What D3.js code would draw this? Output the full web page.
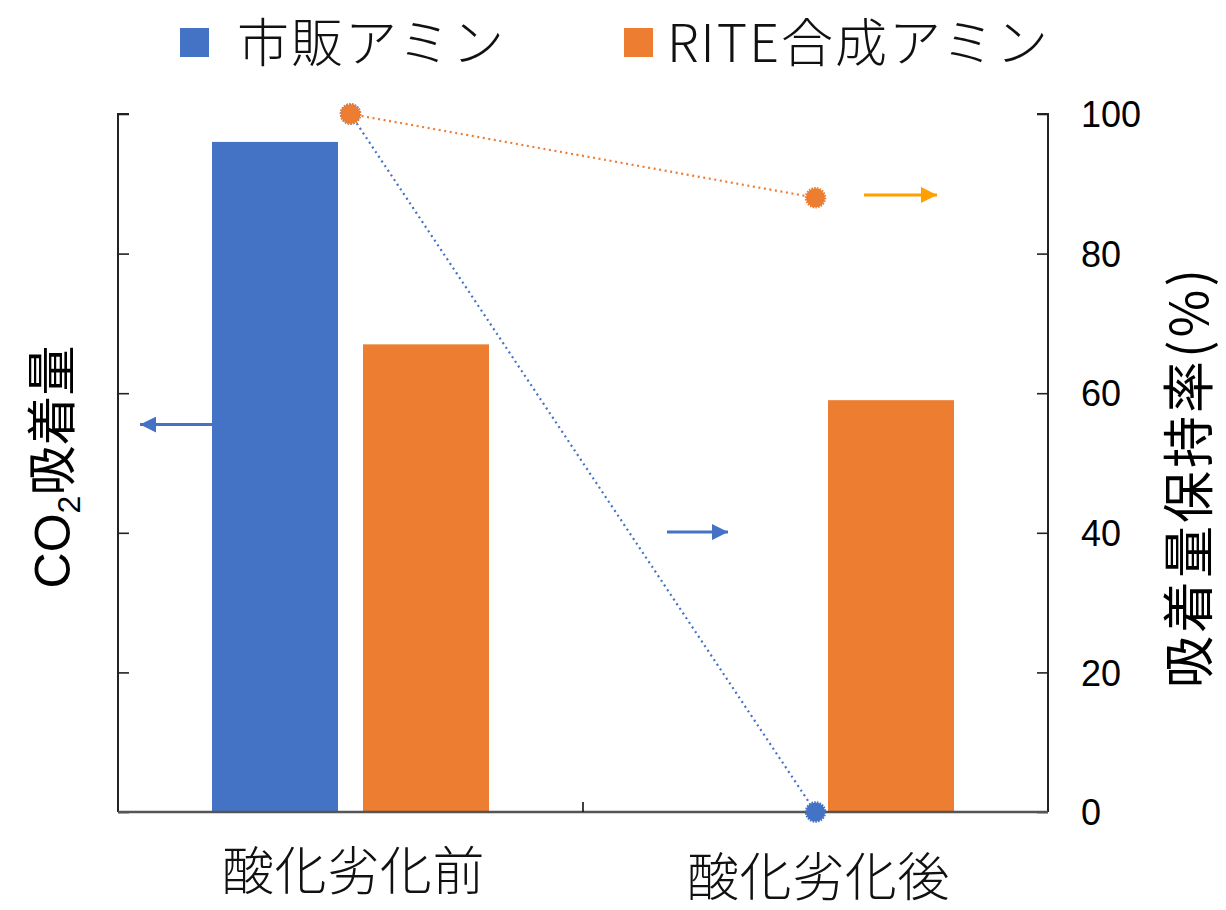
<!DOCTYPE html>
<html>
<head>
<meta charset="utf-8">
<script src="https://cdn.jsdelivr.net/npm/d3@7/dist/d3.min.js"></script>
<style>
  html, body { margin: 0; padding: 0; background: #fff; }
  svg { display: block; }
</style>
</head>
<body>
<svg id="chart" width="1226" height="910"></svg>
<script>
// Categories and series
const categories = ["酸化劣化前", "酸化劣化後"];
const seriesNames = ["市販アミン", "RITE合成アミン"];

// CO2 adsorption (left axis, relative)
const adsorptionCommercial = [0.96, 0];
const adsorptionRite = [0.67, 0.59];

// Adsorption retention (%) (right axis)
const retentionCommercial = [100, 0];
const retentionRite = [100, 88];

// Axis tick values
const rightTicks = [0, 20, 40, 60, 80, 100];
const leftTicks = [0, 0.2, 0.4, 0.6, 0.8, 1.0];

const colors = { blue: "#4472C4", orange: "#ED7D31", amber: "#FF9F00" };
const jpFont = "'Noto Sans CJK JP', 'Noto Sans', sans-serif";
const numFont = "'Liberation Sans', Arial, sans-serif";

const W = 1226, H = 910;
const margin = { top: 114, right: 178, bottom: 98, left: 118 };
const innerW = W - margin.left - margin.right;
const innerH = H - margin.top - margin.bottom;

const svg = d3.select("#chart");
const g = svg.append("g").attr("transform", `translate(${margin.left},${margin.top})`);

const x = d3.scaleBand().domain(categories).range([0, innerW]).paddingInner(0).paddingOuter(0);
const bw = x.bandwidth();
const xs = d3.scaleBand().domain(seriesNames)
  .range([bw / 2 - 138.5, bw / 2 + 138.5]).paddingInner(0.1656).paddingOuter(0);

const yL = d3.scaleLinear().domain([0, 1]).range([innerH, 0]);
const yR = d3.scaleLinear().domain([0, 100]).range([innerH, 0]);

// Arrow heads
const defs = svg.append("defs");
function addHead(id, color) {
  defs.append("marker")
    .attr("id", id)
    .attr("viewBox", "0 0 16 16")
    .attr("refX", 16).attr("refY", 8)
    .attr("markerWidth", 16).attr("markerHeight", 16)
    .attr("markerUnits", "userSpaceOnUse")
    .attr("orient", "auto")
    .append("path").attr("d", "M0,0 L16,8 L0,16 Z").attr("fill", color);
}
addHead("head-blue", colors.blue);
addHead("head-amber", colors.amber);

// Bars
const barRows = categories.map((c, i) => ({
  cat: c,
  values: [
    { s: seriesNames[0], v: adsorptionCommercial[i], color: colors.blue },
    { s: seriesNames[1], v: adsorptionRite[i], color: colors.orange }
  ]
}));

// Arrow pointing the bars to the left axis (drawn behind the bars)
const leftArrowY = yR(55.5);
g.append("line")
  .attr("x1", x(categories[0]) + xs(seriesNames[0]) + 2).attr("y1", leftArrowY)
  .attr("x2", 22).attr("y2", leftArrowY)
  .attr("stroke", colors.blue).attr("stroke-width", 3)
  .attr("marker-end", "url(#head-blue)");

g.selectAll("g.grp").data(barRows).join("g")
  .attr("class", "grp")
  .attr("transform", d => `translate(${x(d.cat)},0)`)
  .selectAll("rect").data(d => d.values.filter(v => v.v > 0)).join("rect")
  .attr("x", d => xs(d.s))
  .attr("y", d => yL(d.v))
  .attr("width", xs.bandwidth())
  .attr("height", d => innerH - yL(d.v))
  .attr("fill", d => d.color);

// Axes
const axisColor = "#222";
const leftAxis = g.append("g")
  .call(d3.axisRight(yL).tickValues(leftTicks).tickSize(11).tickFormat(""));
leftAxis.select(".domain").attr("d", `M0,${innerH}V0H11`).attr("stroke", axisColor).attr("stroke-width", 2);
leftAxis.selectAll(".tick line").attr("stroke", axisColor).attr("stroke-width", 1.6);

const rightAxis = g.append("g").attr("transform", `translate(${innerW},0)`)
  .call(d3.axisLeft(yR).tickValues(rightTicks).tickSize(11).tickFormat(d3.format("d")));
rightAxis.select(".domain").attr("d", `M0,${innerH}V0H-11`).attr("stroke", axisColor).attr("stroke-width", 2);
rightAxis.selectAll(".tick line").attr("stroke", axisColor).attr("stroke-width", 1.6);
rightAxis.selectAll(".tick text")
  .attr("x", 33).attr("text-anchor", "start")
  .attr("font-family", numFont).attr("font-size", 36).attr("fill", "#000").attr("dy", "0.35em");

const bottomAxis = g.append("g").attr("transform", `translate(0,${innerH})`);
bottomAxis.append("line").attr("x1", 0).attr("x2", innerW)
  .attr("stroke", "#555").attr("stroke-width", 2.4);
bottomAxis.selectAll("line.sep").data(categories.slice(1)).join("line")
  .attr("class", "sep")
  .attr("x1", d => x(d)).attr("x2", d => x(d))
  .attr("y1", 0).attr("y2", -10)
  .attr("stroke", "#111").attr("stroke-width", 1.6);
bottomAxis.selectAll("text.cat").data(categories).join("text")
  .attr("class", "cat")
  .attr("x", d => x(d) + bw / 2 + 3)
  .attr("y", (d, i) => 78 + i * 6)
  .attr("text-anchor", "middle")
  .attr("font-family", jpFont).attr("font-weight", 300)
  .attr("font-size", 52).attr("fill", "#111")
  .attr("letter-spacing", 0.6)
  .text(d => d);

// Retention lines (dotted) with markers
const line = d3.line().x((d, i) => x(categories[i]) + bw / 2).y(d => yR(d));
const lineSeries = [
  { vals: retentionCommercial, color: colors.blue },
  { vals: retentionRite, color: colors.orange }
];
g.selectAll("path.ret").data(lineSeries).join("path")
  .attr("class", "ret")
  .attr("d", d => line(d.vals))
  .attr("fill", "none").attr("stroke", d => d.color)
  .attr("stroke-width", 2.2).attr("stroke-dasharray", "2,3.6");

lineSeries.forEach(s => {
  g.selectAll(null).data(s.vals).join("circle")
    .attr("cx", (d, i) => x(categories[i]) + bw / 2)
    .attr("cy", d => yR(d))
    .attr("r", 9.5)
    .attr("fill", s.color)
    .attr("stroke", s.color).attr("stroke-width", 2.5)
    .attr("stroke-dasharray", "1.5,1.2");
});

// Arrows pointing the lines to the right axis
const band2 = x(categories[1]);
g.append("line")
  .attr("x1", band2 + 84).attr("y1", yR(40.1))
  .attr("x2", band2 + 145).attr("y2", yR(40.1))
  .attr("stroke", colors.blue).attr("stroke-width", 3)
  .attr("marker-end", "url(#head-blue)");
g.append("line")
  .attr("x1", band2 + 281).attr("y1", yR(88.4))
  .attr("x2", band2 + 354).attr("y2", yR(88.4))
  .attr("stroke", colors.amber).attr("stroke-width", 3)
  .attr("marker-end", "url(#head-amber)");

// Axis titles
const leftTitle = svg.append("text")
  .attr("transform", "translate(70,467) rotate(-90)")
  .attr("text-anchor", "middle")
  .attr("font-family", jpFont).attr("font-size", 50).attr("fill", "#000");
leftTitle.append("tspan").attr("font-family", numFont).text("CO");
leftTitle.append("tspan").attr("font-family", numFont).attr("font-size", 32).attr("dy", 10).text("2");
leftTitle.append("tspan").attr("dy", -10).text("吸着量");

svg.append("text")
  .attr("transform", "translate(1208,477) rotate(-90)")
  .attr("text-anchor", "middle")
  .attr("font-family", jpFont).attr("font-size", 52).attr("fill", "#000")
  .attr("letter-spacing", 3)
  .text("吸着量保持率(%)");

// Legend
const legend = svg.append("g");
const legendItems = [
  { name: seriesNames[0], color: colors.blue, x: 180, tx: 237 },
  { name: seriesNames[1], color: colors.orange, x: 624, tx: 667 }
];
legend.selectAll("rect").data(legendItems).join("rect")
  .attr("x", d => d.x).attr("y", 28).attr("width", 29).attr("height", 29)
  .attr("fill", d => d.color);
legend.selectAll("text").data(legendItems).join("text")
  .attr("x", d => d.tx).attr("y", 62)
  .attr("font-family", jpFont).attr("font-weight", 300)
  .attr("font-size", 52).attr("fill", "#111")
  .attr("letter-spacing", 2)
  .text(d => d.name);
</script>
</body>
</html>
